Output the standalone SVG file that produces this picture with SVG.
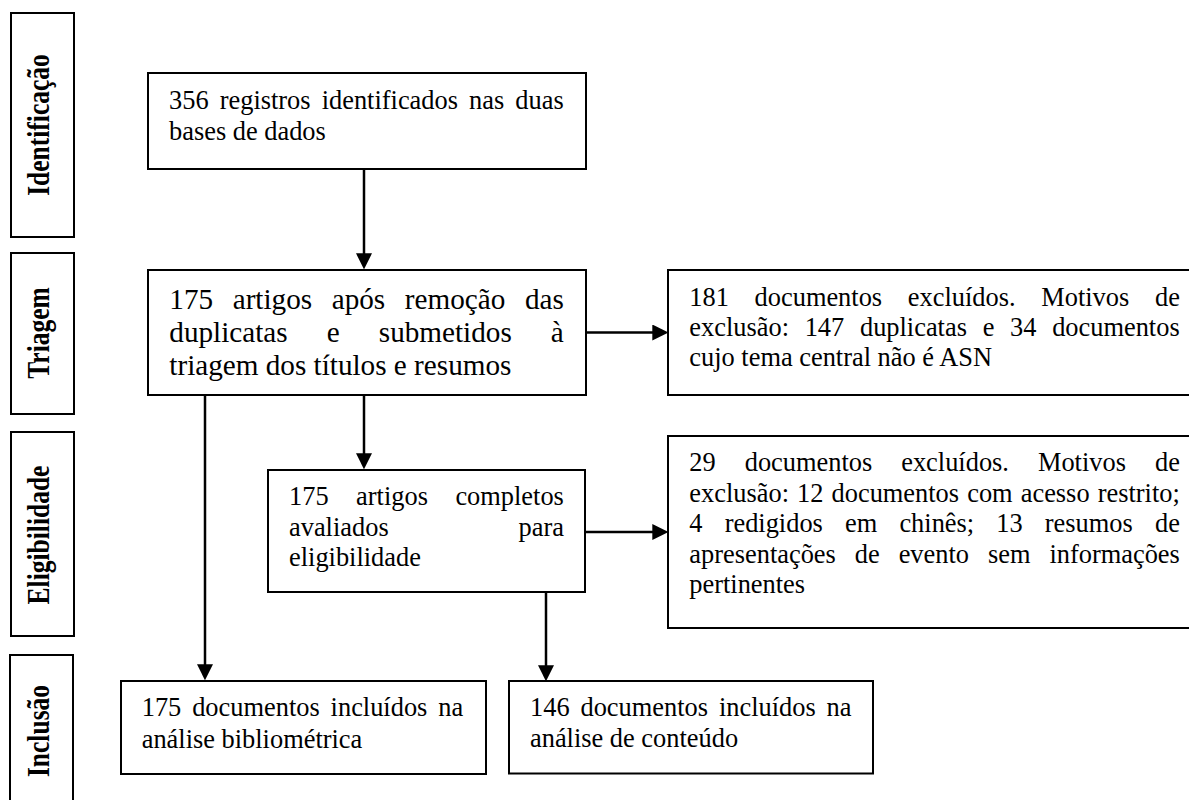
<svg xmlns="http://www.w3.org/2000/svg" width="1189" height="800" viewBox="0 0 1189 800">
<style>
.box{fill:#fff;stroke:#000;stroke-width:2}
.t{font-family:"Liberation Serif","Times New Roman",serif;font-size:26.4px;fill:#000}
.t2{font-family:"Liberation Serif","Times New Roman",serif;font-size:29.2px;fill:#000}
.lbl{font-family:"Liberation Serif","Times New Roman",serif;font-size:25.5px;font-weight:bold;fill:#000}
.con{fill:none;stroke:#000;stroke-width:2.5}
</style>
<defs>
<marker id="ah" markerUnits="userSpaceOnUse" markerWidth="16" markerHeight="16" refX="10" refY="7.5" orient="auto" viewBox="0 0 15 15">
<path d="M0,0 L15,7.5 L0,15 z" fill="#000"/>
</marker>
</defs>
<rect width="1189" height="800" fill="#fff"/>

<g id="phase-identificacao">
<rect class="box" x="11" y="13" width="63" height="224"/>
<text class="lbl" text-anchor="middle" transform="translate(49,125) rotate(-90) scale(1,1.2)">Identificação</text>
</g>
<g id="phase-triagem">
<rect class="box" x="11" y="253" width="63" height="161"/>
<text class="lbl" text-anchor="middle" transform="translate(49,333) rotate(-90) scale(1,1.2)">Triagem</text>
</g>
<g id="phase-eligibilidade">
<rect class="box" x="11" y="432" width="63" height="204"/>
<text class="lbl" text-anchor="middle" transform="translate(49,535) rotate(-90) scale(1,1.2)">Eligibilidade</text>
</g>
<g id="phase-inclusao">
<rect class="box" x="10" y="655" width="63" height="160"/>
<text class="lbl" text-anchor="middle" transform="translate(48.5,731) rotate(-90) scale(1,1.2)">Inclusão</text>
</g>

<g id="connectors">
<path class="con" d="M364,169 V264" marker-end="url(#ah)"/>
<path class="con" d="M586,332.5 H663" marker-end="url(#ah)"/>
<path class="con" d="M364,395 V464" marker-end="url(#ah)"/>
<path class="con" d="M205,395 V675" marker-end="url(#ah)"/>
<path class="con" d="M585,532 H663" marker-end="url(#ah)"/>
<path class="con" d="M546,592 V676" marker-end="url(#ah)"/>
</g>

<g id="n1">
<rect class="box" x="148" y="73" width="438" height="96"/>
<text class="t" x="169" y="109" word-spacing="4.5">356 registros identificados nas duas</text>
<text class="t" x="169" y="140">bases de dados</text>
</g>

<g id="n2">
<rect class="box" x="148" y="270" width="438" height="125"/>
<text class="t2" x="169.3" y="309" word-spacing="12.3">175 artigos após remoção das</text>
<text class="t2" x="169.3" y="342" word-spacing="31.8">duplicatas e submetidos à</text>
<text class="t2" x="169.3" y="375">triagem dos títulos e resumos</text>
</g>

<g id="n3">
<rect class="box" x="668" y="270" width="540" height="125"/>
<text class="t" x="689.3" y="306" word-spacing="19.1">181 documentos excluídos. Motivos de</text>
<text class="t" x="689.3" y="336" word-spacing="9.1">exclusão: 147 duplicatas e 34 documentos</text>
<text class="t" x="689.3" y="366">cujo tema central não é ASN</text>
</g>

<g id="n4">
<rect class="box" x="268" y="470" width="317" height="122"/>
<text class="t" x="289" y="505" word-spacing="20.9">175 artigos completos</text>
<text class="t" x="289" y="535.7" word-spacing="123.3">avaliados para</text>
<text class="t" x="289" y="566">eligibilidade</text>
</g>

<g id="n5">
<rect class="box" x="668" y="436" width="540" height="192"/>
<text class="t" x="689.3" y="471" word-spacing="22.4">29 documentos excluídos. Motivos de</text>
<text class="t" x="689.3" y="501.5" word-spacing="1.5">exclusão: 12 documentos com acesso restrito;</text>
<text class="t" x="689.3" y="532" word-spacing="15.55">4 redigidos em chinês; 13 resumos de</text>
<text class="t" x="689.3" y="562.5" word-spacing="12.35">apresentações de evento sem informações</text>
<text class="t" x="689.3" y="593">pertinentes</text>
</g>

<g id="n6">
<rect class="box" x="121" y="681" width="365" height="93"/>
<text class="t" x="141.7" y="716" word-spacing="4.3">175 documentos incluídos na</text>
<text class="t" x="141.7" y="747.5">análise bibliométrica</text>
</g>

<g id="n7">
<rect class="box" x="509" y="681" width="364" height="92.5"/>
<text class="t" x="530" y="716" word-spacing="4.3">146 documentos incluídos na</text>
<text class="t" x="530" y="747">análise de conteúdo</text>
</g>
</svg>
